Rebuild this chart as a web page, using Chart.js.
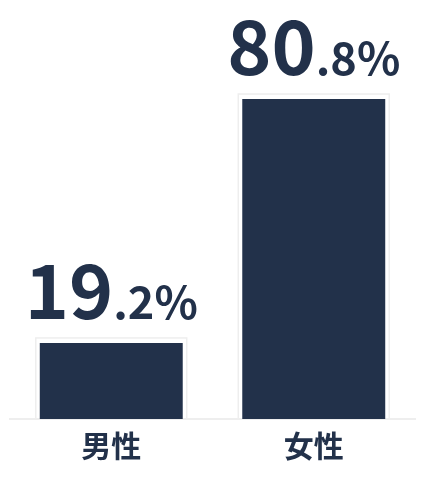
<!DOCTYPE html>
<html>
<head>
<meta charset="utf-8">
<script src="https://cdn.jsdelivr.net/npm/chart.js@4"></script>
<style>
  html, body { margin: 0; padding: 0; background: #fff; }
  #wrap { width: 424px; height: 480px; }
</style>
</head>
<body>
<div id="wrap"><canvas id="genderChart"></canvas></div>
<script>
const categories = ["男性", "女性"];
const shares = [19.2, 80.8];
const axisMax = 100;

const navy = "#22314a";
const fontFamily = "'Noto Sans CJK JP', 'Noto Sans', sans-serif";

// outline + split-size percentage labels above each bar
const barDecor = {
  id: "barDecor",
  beforeDatasetsDraw(chart) {
    const { ctx } = chart;
    const meta = chart.getDatasetMeta(0);
    ctx.save();
    ctx.strokeStyle = "#eeeeee";
    ctx.lineWidth = 1.5;
    meta.data.forEach((bar) => {
      const half = bar.width / 2 + 4;
      ctx.strokeRect(bar.x - half, bar.y - 5, half * 2, bar.base - bar.y + 5);
    });
    ctx.restore();
  },
  afterDatasetsDraw(chart) {
    const { ctx } = chart;
    const meta = chart.getDatasetMeta(0);
    ctx.save();
    ctx.fillStyle = navy;
    ctx.textBaseline = "alphabetic";
    ctx.textAlign = "left";
    meta.data.forEach((bar, i) => {
      const parts = shares[i].toFixed(1).split(".");
      const big = parts[0];
      const small = "." + parts[1] + "%";
      ctx.font = `bold 75px ${fontFamily}`;
      const bigW = ctx.measureText(big).width;
      ctx.font = `bold 45px ${fontFamily}`;
      const smallW = ctx.measureText(small).width;
      const left = bar.x - (bigW + smallW) / 2;
      const baseline = bar.y - 24;
      ctx.font = `bold 75px ${fontFamily}`;
      ctx.fillText(big, left, baseline);
      ctx.font = `bold 45px ${fontFamily}`;
      ctx.fillText(small, left + bigW, baseline);
    });
    ctx.restore();
  }
};

new Chart(document.getElementById("genderChart"), {
  type: "bar",
  data: {
    labels: categories,
    datasets: [
      {
        data: shares,
        backgroundColor: navy,
        borderWidth: 0,
        barPercentage: 0.706,
        categoryPercentage: 1
      }
    ]
  },
  options: {
    responsive: true,
    maintainAspectRatio: false,
    animation: false,
    layout: {
      padding: { top: 23, left: 10, right: 9, bottom: 7 }
    },
    plugins: {
      legend: { display: false },
      tooltip: { enabled: false }
    },
    scales: {
      x: {
        grid: { display: false, drawTicks: false },
        border: { display: true, color: "#eeeeee", width: 2 },
        ticks: {
          color: navy,
          padding: 9,
          font: { family: fontFamily, size: 30, weight: "bold" }
        }
      },
      y: {
        display: false,
        min: 0,
        max: axisMax
      }
    }
  },
  plugins: [barDecor]
});
</script>
</body>
</html>
